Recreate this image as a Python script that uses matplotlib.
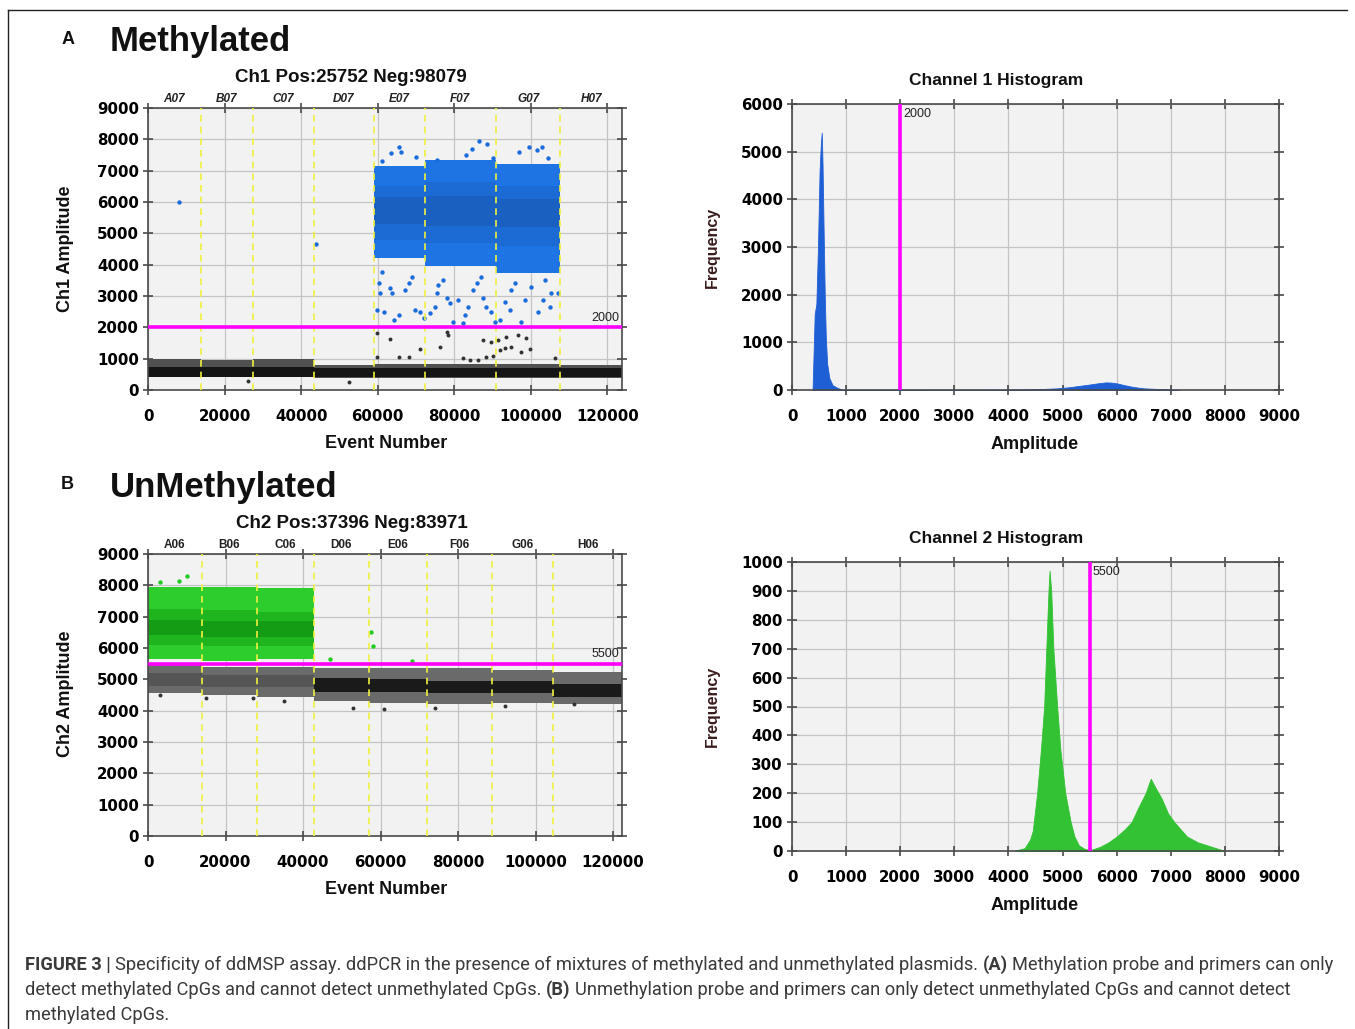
import matplotlib
matplotlib.use('Agg')
import matplotlib.pyplot as plt
from matplotlib.lines import Line2D

W, H = 1355, 1029

# ---- panel A: Ch1 droplet plot ----
wells_a = ['A07', 'B07', 'C07', 'D07', 'E07', 'F07', 'G07', 'H07']
edges_a = [0, 13800, 27300, 43300, 59000, 72300, 90800, 107700, 123800]
neg_lo_a = [400, 400, 400, 380, 380, 380, 380, 380]
neg_hi_a = [980, 970, 1000, 800, 820, 820, 830, 800]
neg_core_lo_a = [430, 430, 430, 420, 420, 420, 420, 420]
neg_core_hi_a = [730, 730, 740, 690, 700, 700, 700, 690]
pos_idx_a = [4, 5, 6]
pos_lo_a = [4200, 3950, 3750]
pos_hi_a = [7150, 7350, 7200]
pos_core_lo_a = [4800, 4700, 4600]
pos_core_hi_a = [6500, 6650, 6500]
pos_mid_lo_a = [5300, 5250, 5200]
pos_mid_hi_a = [6150, 6200, 6100]
# sparse blue droplets (rain)
rain_x_a = [61100, 60300, 60700, 63300, 63700, 59800, 61600, 64200, 65500, 67200, 68100, 68900,
            69800, 71100, 72000, 73700, 75000, 75400, 75800, 77100, 78000, 78900, 79700, 81000,
            82300, 82800, 83600, 84900, 85800, 87100, 87500, 88400, 89700, 90600, 91900, 93200,
            94500, 94900, 95800, 97500, 98400, 100100, 101800, 103100, 103600, 104900, 105300, 107000,
            8000, 44000,
            61000, 63500, 65500, 66000, 70000, 75500, 83000, 84500, 86500, 88500, 90000, 97000,
            99500, 101500, 102800, 104500]
rain_y_a = [3780, 3400, 3090, 3250, 3090, 2550, 2500, 2230, 2390, 3190, 3400, 3620,
            2550, 2500, 2290, 2450, 2660, 3090, 3350, 3510, 2930, 2770, 2180, 2870,
            2130, 2390, 2660, 3190, 3400, 3620, 2930, 2660, 2500, 2180, 2230, 2820,
            2550, 3190, 3400, 2180, 2870, 3300, 2500, 2870, 3510, 2660, 3090, 3090,
            6000, 4650,
            7300, 7550, 7750, 7600, 7450, 7350, 7500, 7700, 7950, 7850, 7400, 7600,
            7750, 7650, 7750, 7400]
# sparse negative droplets
dark_x_a = [59800, 63300, 71100, 76300, 59800, 65500, 68100, 78000, 78400, 87500, 89700, 91400,
            93600, 96600, 98800, 91900, 93200, 94900, 97500, 99700, 82300, 84100, 86200, 88400,
            90200, 106200, 26000, 52500]
dark_y_a = [1810, 1620, 1300, 1380, 1040, 1060, 1060, 1860, 1760, 1600, 1540, 1600,
            1700, 1760, 1650, 1280, 1330, 1380, 1220, 1300, 1010, 960, 960, 1060,
            1100, 1010, 300, 250]

# ---- panel B: Ch2 droplet plot ----
wells_b = ['A06', 'B06', 'C06', 'D06', 'E06', 'F06', 'G06', 'H06']
edges_b = [0, 13900, 28100, 42800, 57000, 72000, 88800, 104500, 122300]
neg_lo_b = [4550, 4500, 4450, 4300, 4250, 4200, 4250, 4200]
neg_hi_b = [5450, 5400, 5400, 5350, 5350, 5350, 5300, 5250]
neg_core_lo_b = [4800, 4750, 4750, 4600, 4600, 4550, 4550, 4450]
neg_core_hi_b = [5200, 5150, 5150, 5050, 5000, 4950, 4950, 4850]
pos_idx_b = [0, 1, 2]
pos_lo_b = [5650, 5600, 5650]
pos_hi_b = [7950, 7950, 7900]
pos_core_lo_b = [6100, 6050, 6050]
pos_core_hi_b = [7250, 7200, 7150]
pos_mid_lo_b = [6400, 6350, 6350]
pos_mid_hi_b = [6900, 6850, 6850]
rain_x_b = [3000, 8000, 10000, 47000, 57500, 58000, 68000]
rain_y_b = [8100, 8150, 8300, 5650, 6500, 6050, 5600]
dark_x_b = [3000, 15000, 27000, 35000, 53000, 61000, 74000, 92000, 110000]
dark_y_b = [4500, 4400, 4400, 4300, 4100, 4050, 4100, 4150, 4200]

# ---- histograms ----
amp1 = [380, 420, 450, 480, 510, 535, 550, 565, 585, 605, 625, 650, 690, 750, 850, 950,
        4000, 4300, 4600, 4900, 5100, 5300, 5500, 5650, 5800, 5900, 6000, 6150, 6300, 6500, 6800, 7100, 7150]
freq1 = [0, 1600, 1800, 3000, 4600, 5200, 5400, 4700, 3300, 2000, 1100, 550, 250, 100, 40, 0,
         5, 12, 20, 35, 55, 85, 115, 140, 160, 155, 140, 100, 65, 35, 20, 5, 0]
amp2 = [4100, 4300, 4400, 4450, 4530, 4600, 4660, 4700, 4740, 4760, 4790, 4830, 4900, 4960, 5050,
        5150, 5220, 5300, 5400, 5500,
        5550, 5700, 5850, 6000, 6150, 6275, 6400, 6535, 6600, 6630, 6700, 6835, 6950, 7065, 7300,
        7500, 7750, 8000]
freq2 = [0, 10, 40, 70, 200, 350, 500, 700, 900, 970, 900, 700, 500, 350, 200,
         100, 50, 20, 8, 3,
         5, 15, 30, 50, 75, 100, 150, 200, 235, 250, 225, 180, 130, 100, 50,
         30, 15, 0]

thr_a = 2000
thr_b = 5500


def fx(px):
    return px / W


def fy(py):
    return 1 - py / H


def add_ax(l, t, r, b):
    return fig.add_axes([fx(l), fy(b), (r - l) / W, (b - t) / H])


def style(ax, xt, yt, xpad):
    ax.set_facecolor('#f2f2f2')
    ax.set_xticks(xt)
    ax.set_yticks(yt)
    ax.grid(True, color='#c4c4c4', lw=0.9)
    ax.set_axisbelow(True)
    for s in ax.spines.values():
        s.set_color('#4a4a4a')
        s.set_linewidth(1.2)
    ax.tick_params(top=True, right=True, direction='inout', length=7, width=1.1,
                   color='#3a3a3a', labelsize=10.8)
    ax.tick_params(axis='x', pad=xpad)
    ax.tick_params(axis='y', pad=3)
    for lab in ax.get_xticklabels() + ax.get_yticklabels():
        lab.set_fontweight('bold')
        lab.set_fontfamily('DejaVu Sans')


def droplet_panel(ax, edges, wells, neg, negcore, negcols, pidx, pos, poscore, posmid, poscols,
                  rx, ry, rcol, dx, dy, thr, xmax, italic):
    for i in range(len(wells)):
        xs = [edges[i], edges[i + 1]]
        ax.fill_between(xs, neg[0][i], neg[1][i], color=negcols[0], lw=0, zorder=2)
        ax.fill_between(xs, negcore[0][i], negcore[1][i], color=negcols[1], lw=0, zorder=2)
    for k, i in enumerate(pidx):
        xs = [edges[i], edges[i + 1]]
        ax.fill_between(xs, pos[0][k], pos[1][k], color=poscols[0], lw=0, zorder=2)
        ax.fill_between(xs, poscore[0][k], poscore[1][k], color=poscols[1], lw=0, zorder=2)
        ax.fill_between(xs, posmid[0][k], posmid[1][k], color=poscols[2], lw=0, zorder=2)
    ax.scatter(rx, ry, s=10, color=rcol, lw=0, zorder=3)
    ax.scatter(dx, dy, s=8, color='#333333', lw=0, zorder=3)
    for e in edges[1:-1]:
        ax.axvline(e, color='#f0f040', lw=1.2, ls=(0, (4, 3)), zorder=4)
    ax.axhline(thr, color='#ff00ff', lw=2.6, zorder=5)
    ax.text(xmax - 700, thr + 120, str(thr), ha='right', va='bottom', fontsize=9,
            color='#222222', family='Liberation Sans', zorder=6)
    for i, w in enumerate(wells):
        ax.text((edges[i] + edges[i + 1]) / 2, 1.012, w, transform=ax.get_xaxis_transform(),
                ha='center', va='bottom', fontsize=8.5, weight='bold',
                style='italic' if italic else 'normal', family='Liberation Sans', color='#222222')
    ax.set_xlim(0, xmax)
    ax.set_ylim(0, 9000)


def hist_panel(ax, amp, freq, col, thr, ymax, ystep):
    ax.fill_between(amp, freq, 0, color=col, lw=0.6, edgecolor=col, zorder=2)
    ax.axvline(thr, color='#ff00ff', lw=2.6, zorder=5)
    ax.text(thr + 60, ymax * 0.985, str(thr), ha='left', va='top', fontsize=9,
            color='#222222', family='Liberation Sans', zorder=6)
    ax.set_xlim(0, 9000)
    ax.set_ylim(0, ymax)


fig = plt.figure(figsize=(W / 100, H / 100), dpi=100)

ax1 = add_ax(148, 108, 622, 390)
droplet_panel(ax1, edges_a, wells_a, (neg_lo_a, neg_hi_a), (neg_core_lo_a, neg_core_hi_a),
              ('#505050', '#151515'), pos_idx_a, (pos_lo_a, pos_hi_a),
              (pos_core_lo_a, pos_core_hi_a), (pos_mid_lo_a, pos_mid_hi_a),
              ('#1f74e4', '#1c6bd4', '#1a60c0'), rain_x_a, rain_y_a, '#1a6bdc',
              dark_x_a, dark_y_a, thr_a, 123800, True)
style(ax1, range(0, 120001, 20000), range(0, 9001, 1000), 10)

ax2 = add_ax(792, 104, 1279, 390)
hist_panel(ax2, amp1, freq1, '#1f5fd6', thr_a, 6000, 1000)
style(ax2, range(0, 9001, 1000), range(0, 6001, 1000), 10)

ax3 = add_ax(148, 554, 622, 836)
droplet_panel(ax3, edges_b, wells_b, (neg_lo_b, neg_hi_b), (neg_core_lo_b, neg_core_hi_b),
              ('#6a6a6a', '#1a1a1a'), pos_idx_b, (pos_lo_b, pos_hi_b),
              (pos_core_lo_b, pos_core_hi_b), (pos_mid_lo_b, pos_mid_hi_b),
              ('#2dcd2d', '#1fb51f', '#159c15'), rain_x_b, rain_y_b, '#22cc22',
              dark_x_b, dark_y_b, thr_b, 122300, False)
# the first three wells of B have lighter negatives
for i in range(3):
    ax3.fill_between([edges_b[i], edges_b[i + 1]], neg_core_lo_b[i], neg_core_hi_b[i],
                     color='#555555', lw=0, zorder=2)
style(ax3, range(0, 120001, 20000), range(0, 9001, 1000), 10)

ax4 = add_ax(792, 562, 1279, 851)
hist_panel(ax4, amp2, freq2, '#33c233', thr_b, 1000, 100)
style(ax4, range(0, 9001, 1000), range(0, 1001, 100), 10)

# ---- texts ----
lab = dict(family='Liberation Sans', color='#111111')
fig.text(fx(68), fy(40), 'A', ha='center', va='center', fontsize=13, weight='bold', **lab)
fig.text(fx(110), fy(41), 'Methylated', ha='left', va='center', fontsize=25, weight='bold', **lab)
fig.text(fx(67), fy(485), 'B', ha='center', va='center', fontsize=13, weight='bold', **lab)
fig.text(fx(110), fy(488), 'UnMethylated', ha='left', va='center', fontsize=25, weight='bold', **lab)

fig.text(fx(351), fy(78), 'Ch1 Pos:25752 Neg:98079', ha='center', va='center', fontsize=13.5,
         weight='bold', **lab)
fig.text(fx(352), fy(524), 'Ch2 Pos:37396 Neg:83971', ha='center', va='center', fontsize=13.5,
         weight='bold', **lab)
fig.text(fx(996), fy(80), 'Channel 1 Histogram', ha='center', va='center', fontsize=12.5, weight='bold', **lab)
fig.text(fx(996), fy(539), 'Channel 2 Histogram', ha='center', va='center', fontsize=12.5, weight='bold', **lab)

fig.text(fx(386), fy(444), 'Event Number', ha='center', va='center', fontsize=13, weight='bold', **lab)
fig.text(fx(386), fy(890), 'Event Number', ha='center', va='center', fontsize=13, weight='bold', **lab)
fig.text(fx(1035), fy(445), 'Amplitude', ha='center', va='center', fontsize=13, weight='bold', **lab)
fig.text(fx(1035), fy(905), 'Amplitude', ha='center', va='center', fontsize=13, weight='bold', **lab)
fig.text(fx(66), fy(249), 'Ch1 Amplitude', ha='center', va='center', rotation=90, fontsize=13, weight='bold', **lab)
fig.text(fx(66), fy(694), 'Ch2 Amplitude', ha='center', va='center', rotation=90, fontsize=13, weight='bold', **lab)
fig.text(fx(712), fy(247), 'Frequency', ha='center', va='center', rotation=90, fontsize=11.5, weight='bold',
         family='Liberation Sans', color='#3a1c1c')
fig.text(fx(712), fy(706), 'Frequency', ha='center', va='center', rotation=90, fontsize=11.5, weight='bold',
         family='Liberation Sans', color='#3a1c1c')

# frame: top and left line only
fig.add_artist(Line2D([fx(8), fx(1347)], [fy(10), fy(10)], color='#222222', lw=1))
fig.add_artist(Line2D([fx(8), fx(8)], [fy(10), 0], color='#222222', lw=1))

# ---- caption ----
renderer = fig.canvas.get_renderer()
cap_font = dict(family=['Roboto', 'DejaVu Sans'], color='#3a3a3a')
lines = [
    [('FIGURE 3 |', 'bold'), ('Specificity of ddMSP assay. ddPCR in the presence of mixtures of '
                              'methylated and unmethylated plasmids.', 'normal'),
     ('(A)', 'bold'), ('Methylation probe and primers can only', 'normal')],
    [('detect methylated CpGs and cannot detect unmethylated CpGs.', 'normal'), ('(B)', 'bold'),
     ('Unmethylation probe and primers can only detect unmethylated CpGs and cannot detect', 'normal')],
    [('methylated CpGs.', 'normal')],
]
line_y = [965, 990, 1015]


def text_w(s, w, size):
    t = fig.text(0, 0, s, fontsize=size, weight=w, **cap_font)
    bw = t.get_window_extent(renderer).width
    t.remove()
    return bw


def line_w(segs, size):
    sp = text_w('x x', 'normal', size) - text_w('xx', 'normal', size)
    return sum(text_w(s, w, size) for s, w in segs) + sp * (len(segs) - 1), sp


size = 12.5
tw, _ = line_w(lines[0], size)
size = size * (1330 - 25) / tw

for segs, yy in zip(lines, line_y):
    _, sp = line_w(segs, size)
    x = 25
    for s, w in segs:
        fig.text(fx(x), fy(yy), s, fontsize=size, weight=w, ha='left', va='center', **cap_font)
        x += text_w(s, w, size) + sp

fig.savefig('out.png', dpi=100)
